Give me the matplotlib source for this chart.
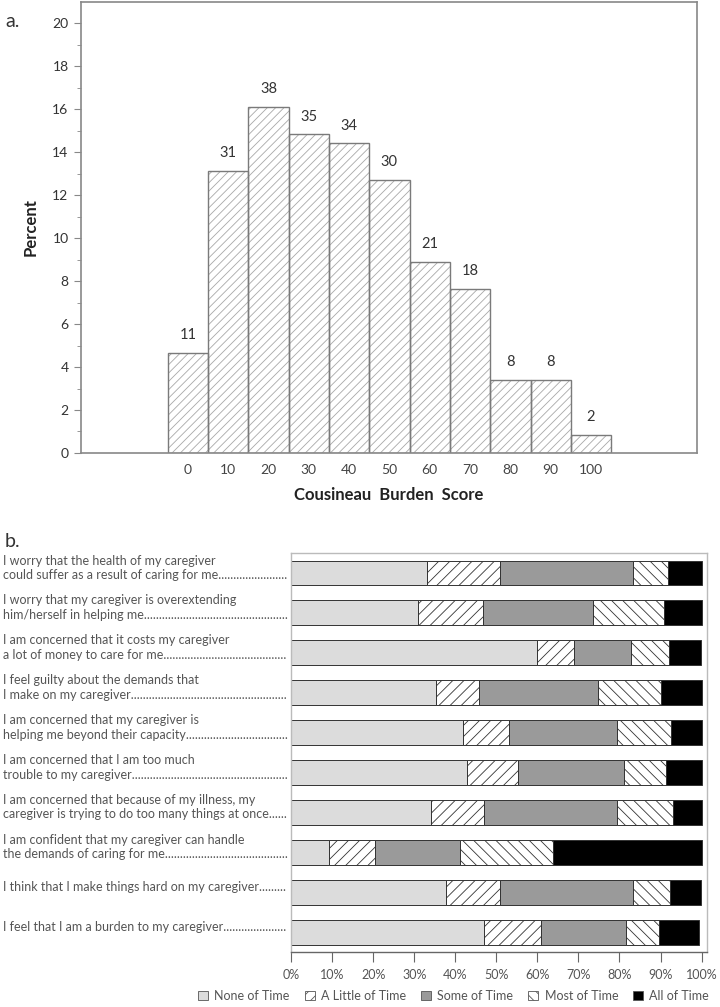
import numpy as np
import matplotlib
matplotlib.use('Agg')
import matplotlib.pyplot as plt
from matplotlib.patches import Patch
import matplotlib.transforms as mtransforms

# ---- panel a data ----
scores = [0, 10, 20, 30, 40, 50, 60, 70, 80, 90, 100]
counts = [11, 31, 38, 35, 34, 30, 21, 18, 8, 8, 2]
percent = [4.66, 13.14, 16.10, 14.83, 14.41, 12.71, 8.90, 7.63, 3.39, 3.39, 0.85]

# ---- panel b data ----
items = [
    "I worry that the health of my caregiver\ncould suffer as a result of caring for me",
    "I worry that my caregiver is overextending\nhim/herself in helping me",
    "I am concerned that it costs my caregiver\na lot of money to care for me",
    "I feel guilty about the demands that\nI make on my caregiver",
    "I am concerned that my caregiver is\nhelping me beyond their capacity",
    "I am concerned that I am too much\ntrouble to my caregiver",
    "I am concerned that because of my illness, my\ncaregiver is trying to do too many things at once",
    "I am confident that my caregiver can handle\nthe demands of caring for me",
    "I think that I make things hard on my caregiver",
    "I feel that I am a burden to my caregiver",
]
cats = ["None of Time", "A Little of Time", "Some of Time", "Most of Time", "All of Time"]
none_t = [33.2, 31.0, 59.8, 35.2, 42.0, 42.9, 34.0, 9.3, 37.8, 47.1]
little_t = [17.7, 15.7, 9.1, 10.7, 11.1, 12.4, 13.1, 11.2, 13.2, 13.7]
some_t = [32.3, 26.8, 14.0, 28.9, 26.4, 25.9, 32.4, 20.7, 32.3, 20.8]
most_t = [8.5, 17.3, 9.2, 15.3, 13.1, 10.1, 13.6, 22.5, 8.9, 8.0]
all_t = [8.3, 9.2, 7.7, 9.9, 7.4, 8.7, 6.9, 36.3, 7.6, 9.8]

plt.rcParams['font.family'] = ['Lato', 'DejaVu Sans']
plt.rcParams['hatch.linewidth'] = 0.6

fig = plt.figure(figsize=(7.2, 10.07), dpi=100)

# ================= a =================
ax1 = fig.add_axes([0.1125, 0.5502, 0.8556, 0.4479])
# hatch layer in light gray, then dark outline on top
ax1.bar(scores, percent, width=10, color='white', edgecolor='#a8a8a8',
        hatch='////', linewidth=0)
ax1.bar(scores, percent, width=10, fill=False, edgecolor='#7a7a7a', linewidth=1.0)
for x, p, c in zip(scores, percent, counts):
    ax1.text(x, p + 0.5, str(c), ha='center', va='bottom', fontsize=10.5, color='#333333')
ax1.set_xlim(-26.5, 126.3)
ax1.set_ylim(0, 21)
ax1.set_yticks(np.arange(0, 21, 2))
ax1.set_yticks(np.arange(1, 21, 2), minor=True)
ax1.set_xticks(scores)
ax1.tick_params(axis='y', which='major', length=5, color='#888888', labelsize=10,
                labelcolor='#333333', pad=4)
ax1.tick_params(axis='y', which='minor', length=3, color='#888888')
ax1.tick_params(axis='x', length=0, labelsize=10, labelcolor='#444444', pad=8)
for s in ax1.spines.values():
    s.set_color('#888888')
    s.set_linewidth(1.2)
ax1.set_ylabel('Percent', fontsize=12, fontweight='bold', color='#222222', labelpad=10)
ax1.set_xlabel('Cousineau  Burden  Score', fontsize=12, fontweight='bold',
               color='#222222', labelpad=8)
fig.text(0.007, 0.979, 'a.', fontsize=14, color='#333333', va='center')

# ================= b =================
ax2 = fig.add_axes([0.4042, 0.0546, 0.5771, 0.3962])
ypos = np.arange(len(items))
series = [none_t, little_t, some_t, most_t, all_t]
faces = ['#dcdcdc', 'white', '#9a9a9a', 'white', 'black']
hatches = [None, '///', None, '\\\\\\', None]
left = np.zeros(len(items))
for vals, fc, h in zip(series, faces, hatches):
    ax2.barh(ypos, vals, left=left, height=0.625, color=fc, edgecolor='#333333',
             hatch=h, linewidth=0.7)
    left = left + np.array(vals)
ax2.set_ylim(9.5, -0.5)
ax2.set_xlim(0, 101.2)
ax2.set_yticks([])
ax2.set_xticks(np.arange(0, 101, 10))
ax2.set_xticklabels([f'{v}%' for v in range(0, 101, 10)])
ax2.tick_params(axis='x', length=7, color='#666666', labelsize=9, labelcolor='#555555', pad=5)
for k, s in ax2.spines.items():
    s.set_color('#bbbbbb')
    s.set_linewidth(1.0)
ax2.spines['bottom'].set_color('#666666')

# item labels with dot leaders
trans = mtransforms.blended_transform_factory(fig.transFigure, ax2.transData)
fig.canvas.draw()
renderer = fig.canvas.get_renderer()
x_end = 286
for y, lab in zip(ypos, items):
    t = ax2.text(3 / 720, y - 0.13, lab + '.', transform=trans, ha='left', va='center',
                 fontsize=9, color='#555555', linespacing=1.25)
    lines = lab.split('\n')
    while t.get_window_extent(renderer).x1 < x_end:
        lines[-1] = lines[-1] + '.'
        t.set_text('\n'.join(lines))

fig.text(0.007, 0.462, 'b.', fontsize=14, color='#333333', va='center')

handles = [Patch(facecolor=fc, edgecolor='#555555', hatch=h, linewidth=0.6)
           for fc, h in zip(faces, hatches)]
fig.legend(handles, cats, loc='center', bbox_to_anchor=(0.63, 0.011), ncol=5,
           frameon=False, fontsize=9, handlelength=0.8, handleheight=0.8,
           handletextpad=0.5, columnspacing=1.2, labelcolor='#555555')

fig.savefig('out.png', dpi=100)
